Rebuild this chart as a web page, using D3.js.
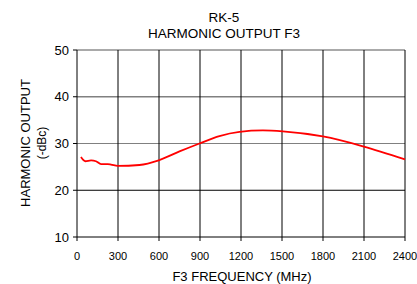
<!DOCTYPE html>
<html>
<head>
<meta charset="utf-8">
<script src="https://cdn.jsdelivr.net/npm/d3@7"></script>
<style>
  body { margin: 0; background: #fff; }
  text { font-family: "Liberation Sans", Arial, sans-serif; fill: #000; }
</style>
</head>
<body>
<div id="chart"></div>
<script>
// Data
const freq = [29, 61, 103, 139, 176, 225, 249, 298, 457, 598, 750, 896, 1042, 1189, 1360, 1506, 1799, 2092, 2400];
const output = [27.1, 26.2, 26.4, 26.2, 25.6, 25.6, 25.5, 25.2, 25.4, 26.4, 28.3, 30.0, 31.6, 32.5, 32.8, 32.6, 31.5, 29.4, 26.6];
const xTicks = [0, 300, 600, 900, 1200, 1500, 1800, 2100, 2400];
const yTicks = [10, 20, 30, 40, 50];

const width = 417, height = 284;
const margin = { top: 50, right: 12, bottom: 47, left: 77 };

const svg = d3.select("#chart").append("svg")
    .attr("width", width)
    .attr("height", height);

const x = d3.scaleLinear().domain([0, 2400]).range([margin.left, width - margin.right]);
const y = d3.scaleLinear().domain([10, 50]).range([height - margin.bottom, margin.top]);

// Horizontal grid
svg.append("g")
    .selectAll("line")
    .data(yTicks)
    .join("line")
    .attr("x1", x(0)).attr("x2", x(2400))
    .attr("y1", d => y(d)).attr("y2", d => y(d))
    .attr("stroke", d => (d === 30 || d === 40) ? "#808080" : (d === 50 ? "#555" : "#000"))
    .attr("stroke-width", d => d === 40 ? 1.6 : 1);

// Vertical grid
svg.append("g")
    .selectAll("line")
    .data(xTicks)
    .join("line")
    .attr("x1", d => x(d)).attr("x2", d => x(d))
    .attr("y1", y(50)).attr("y2", y(10) + 4)
    .attr("stroke", "#000")
    .attr("stroke-width", 1);

// Y ticks
svg.append("g")
    .selectAll("line")
    .data(yTicks)
    .join("line")
    .attr("x1", x(0) - 4).attr("x2", x(0))
    .attr("y1", d => y(d)).attr("y2", d => y(d))
    .attr("stroke", "#000");

svg.append("g")
    .selectAll("text")
    .data(yTicks)
    .join("text")
    .attr("x", x(0) - 8)
    .attr("y", d => y(d))
    .attr("dy", "0.35em")
    .attr("text-anchor", "end")
    .style("font-size", "13px")
    .text(d => d);

svg.append("g")
    .selectAll("text")
    .data(xTicks)
    .join("text")
    .attr("x", d => x(d))
    .attr("y", y(10) + 23)
    .attr("text-anchor", "middle")
    .style("font-size", "11px")
    .text(d => d);

// Curve
const line = d3.line()
    .x((d, i) => x(freq[i]))
    .y(d => y(d))
    .curve(d3.curveMonotoneX);

svg.append("path")
    .datum(output)
    .attr("fill", "none")
    .attr("stroke", "#ff0000")
    .attr("stroke-width", 1.8)
    .attr("d", line);

// Titles
svg.append("text")
    .attr("x", 224).attr("y", 22)
    .attr("text-anchor", "middle")
    .style("font-size", "13.5px")
    .text("RK-5");

svg.append("text")
    .attr("x", 224).attr("y", 38)
    .attr("text-anchor", "middle")
    .style("font-size", "13.5px")
    .text("HARMONIC OUTPUT F3");

svg.append("text")
    .attr("x", 242).attr("y", 281)
    .attr("text-anchor", "middle")
    .style("font-size", "13px")
    .text("F3 FREQUENCY (MHz)");

svg.append("text")
    .attr("transform", `translate(30,143) rotate(-90)`)
    .attr("text-anchor", "middle")
    .style("font-size", "13px")
    .text("HARMONIC OUTPUT");

svg.append("text")
    .attr("transform", `translate(46,143) rotate(-90)`)
    .attr("text-anchor", "middle")
    .style("font-size", "12px")
    .text("(-dBc)");
</script>
</body>
</html>
